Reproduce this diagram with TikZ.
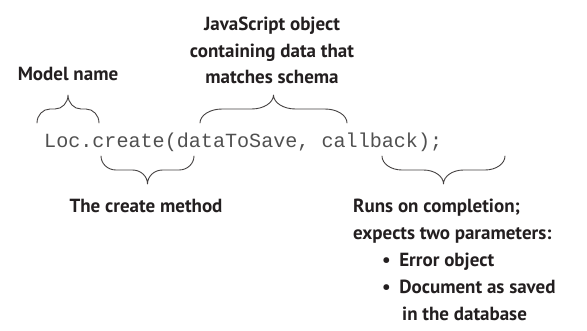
\documentclass[tikz,border=0pt]{standalone}
\usepackage{fontspec}
\setmainfont{PT Sans}
\newfontfamily\codefont{Liberation Mono}
\definecolor{ink}{HTML}{231F20}
\definecolor{codeink}{HTML}{505050}
\tikzset{
  lbl/.style={font=\fontsize{19}{26.5}\selectfont\bfseries, text=ink, inner sep=0pt, align=center},
  lbll/.style={font=\fontsize{19}{27}\selectfont\bfseries, text=ink, inner sep=0pt, anchor=base west},
  code/.style={font=\codefont\fontsize{20.1}{24}\selectfont, text=codeink, inner sep=0pt, anchor=base west},
  brc/.style={draw=ink!85, line width=0.9pt, line cap=round, line join=round}
}
% #1 xL, #2 xR, #3 end y, #4 height, #5 horizontal radius, #6 direction (-1 tip up, +1 tip down)
\newcommand{\mybrace}[6]{%
  \pgfmathsetmacro{\xm}{(#1+#2)/2}%
  \pgfmathsetmacro{\r}{#6*#4/2}%
  \pgfmathsetmacro{\k}{0.552}%
  \draw[brc] (#1,#3)
     .. controls (#1,{#3+\k*\r}) and ({#1+(1-\k)*#5},{#3+\r}) .. ({#1+#5},{#3+\r})
     -- ({\xm-#5},{#3+\r})
     .. controls ({\xm-(1-\k)*#5},{#3+\r}) and (\xm,{#3+(2-\k)*\r}) .. (\xm,{#3+2*\r})
     .. controls (\xm,{#3+(2-\k)*\r}) and ({\xm+(1-\k)*#5},{#3+\r}) .. ({\xm+#5},{#3+\r})
     -- ({#2-#5},{#3+\r})
     .. controls ({#2-(1-\k)*#5},{#3+\r}) and (#2,{#3+\k*\r}) .. (#2,#3);}
\begin{document}
\begin{tikzpicture}[x=1pt,y=-1pt]
\useasboundingbox (0,0) rectangle (587,330);
% code line
\node[code] (code) at (44,147) {Loc.create(dataToSave, callback);};
% labels above
\node[lbl, anchor=base] (model) at (68,80) {Model name};
\node[lbl, anchor=base] (js1) at (272,30) {JavaScript object};
\node[lbl, anchor=base] (js2) at (272,57) {containing data that};
\node[lbl, anchor=base] (js3) at (272,83) {matches schema};
% labels below
\node[lbl, anchor=base] (create) at (146,212) {The create method};
\node[lbll] (runs1) at (353,212) {Runs on completion;};
\node[lbll] (runs2) at (353,239) {expects two parameters:};
\node[lbll] (b1) at (382,266) {\textbullet\hspace{0.45em}Error object};
\node[lbll] (b2) at (382,293) {\textbullet\hspace{0.45em}Document as saved};
\node[lbll] (b3) at (402,320) {in the database};
% braces
\mybrace{37}{99}{123}{28}{13}{-1}
\mybrace{200}{347}{123}{28}{22}{-1}
\mybrace{101}{194}{156}{28}{15}{1}
\mybrace{382}{505}{156}{28}{20}{1}
\end{tikzpicture}
\end{document}
